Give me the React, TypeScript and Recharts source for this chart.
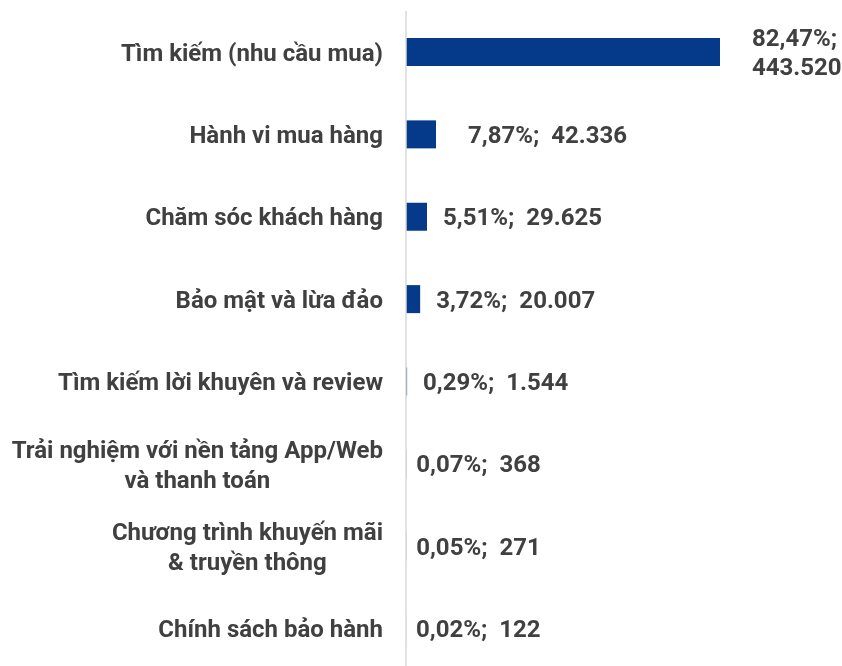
import React from 'react'
import { BarChart, Bar, XAxis, YAxis, LabelList } from 'recharts'

const categories = [
	'Tìm kiếm (nhu cầu mua)',
	'Hành vi mua hàng',
	'Chăm sóc khách hàng',
	'Bảo mật và lừa đảo',
	'Tìm kiếm lời khuyên và review',
	'Trải nghiệm với nền tảng App/Web\nvà thanh toán',
	'Chương trình khuyến mãi\n& truyền thông',
	'Chính sách bảo hành',
]
const shares = [82.47, 7.87, 5.51, 3.72, 0.29, 0.07, 0.05, 0.02]
const mentions = [443520, 42336, 29625, 20007, 1544, 368, 271, 122]

const W = 834
const H = 662
const FS = 24
const FONT = 'Roboto, "Noto Sans", sans-serif'
const TEXT = '#404040'
const BAR = '#053a8b'

const data = categories.map((name, i) => ({ name, share: shares[i], mentions: mentions[i] }))

let ctx: CanvasRenderingContext2D | null = null
const measure = (s: string) => {
	if (!ctx) ctx = document.createElement('canvas').getContext('2d')
	if (!ctx) return s.length * FS * 0.55
	ctx.font = `bold ${FS}px Roboto`
	return ctx.measureText(s).width
}

const fmtPct = (v: number) => v.toFixed(2).replace('.', ',') + '%;'
const fmtNum = (v: number) => String(v).replace(/\B(?=(\d{3})+(?!\d))/g, '.')

const CategoryTick = (props: any) => {
	const { x, y, payload } = props
	const lines = String(payload.value).split('\n')
	const w = Math.max(...lines.map(measure))
	const cx = x - 23 - w / 2
	const lh = 30
	return (
		<text x={cx} y={y} textAnchor="middle" fontFamily={FONT} fontWeight={700} fontSize={FS} fill={TEXT}>
			{lines.map((l, i) => (
				<tspan key={i} x={cx} dy={i === 0 ? -((lines.length - 1) * lh) / 2 + FS * 0.355 : lh}>
					{l}
				</tspan>
			))}
		</text>
	)
}

const ValueLabel = (props: any) => {
	const { x, y, width, height, index } = props
	const pct = fmtPct(shares[index])
	const num = fmtNum(mentions[index])
	const gap = width > 25 ? 32 : width > 1 ? 16 : 10
	const lx = x + width + gap
	const cy = y + height / 2
	const full = `${pct}  ${num}`
	const style = { whiteSpace: 'pre' as const }
	if (lx + measure(full) > W - 4) {
		return (
			<text x={lx} y={cy} fontFamily={FONT} fontWeight={700} fontSize={FS} fill={TEXT} style={style}>
				<tspan x={lx} dy={-15 + FS * 0.355}>{pct}</tspan>
				<tspan x={lx} dy={29}>{num}</tspan>
			</text>
		)
	}
	return (
		<text x={lx} y={cy} dy={FS * 0.355} fontFamily={FONT} fontWeight={700} fontSize={FS} fill={TEXT} style={style}>
			{full}
		</text>
	)
}

export default function App() {
	return (
		<div style={{ position: 'fixed', left: 8, top: 8, width: W, height: H }}>
			<BarChart
				width={W}
				height={H}
				data={data}
				layout="vertical"
				margin={{ top: 3, right: 122, bottom: 0, left: 0 }}
				barSize={28}
			>
				<XAxis type="number" dataKey="mentions" domain={[0, 443520]} hide />
				<YAxis
					type="category"
					dataKey="name"
					width={398}
					tickSize={0}
					tickMargin={0}
					tickLine={false}
					axisLine={{ stroke: '#d9d9d9', strokeWidth: 1.5 }}
					tick={<CategoryTick />}
					interval={0}
				/>
				<Bar dataKey="mentions" fill={BAR} isAnimationActive={false}>
					<LabelList dataKey="mentions" content={<ValueLabel />} />
				</Bar>
			</BarChart>
		</div>
	)
}
